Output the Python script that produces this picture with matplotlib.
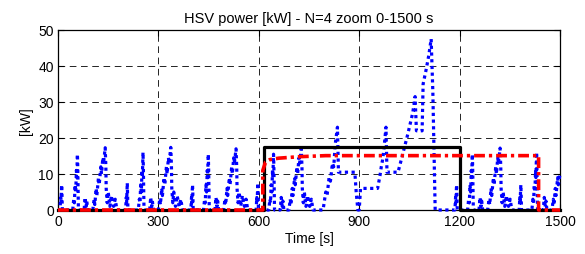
import matplotlib
matplotlib.use('Agg')
import matplotlib.pyplot as plt

plt.rcParams['font.family'] = ['Liberation Sans', 'DejaVu Sans']
plt.rcParams['font.size'] = 10

# HSV power (blue, dotted) - knots, one list per cycle
c1_t = [0, 6, 8, 9, 10, 11, 12, 13, 44, 47, 49, 51, 53, 55, 56, 58, 59, 60, 61, 78, 81, 84, 86, 89,
        104, 108, 110, 114, 116, 121, 123, 128, 130, 134, 136, 141, 143, 144, 147, 150, 155, 160, 166, 171, 176]
c1_p = [0, 0, 3.5, 2, 5, 7, 4, 0, 0, 3, 2, 7, 5, 11, 9, 15.5, 12, 6, 0, 0, 3.5, 1, 2.5, 0,
        0, 3, 1.5, 6, 4, 9, 7, 12, 10, 14.5, 13, 17.3, 12, 6, 2, 5, 1, 4, 1, 3, 0]

c2_t = [196, 202, 204, 205, 206, 207, 208, 209, 240, 243, 245, 247, 249, 251, 252, 254, 255, 256, 257, 274, 277, 280, 282, 285,
        300, 304, 306, 310, 312, 317, 319, 324, 326, 330, 332, 337, 339, 340, 343, 346, 351, 356, 362, 367, 372]
c2_p = [0, 0, 3.5, 2, 5, 7.5, 4, 0, 0, 3, 2, 7, 5, 11, 9, 16, 12, 6, 0, 0, 3.5, 1, 2.5, 0,
        0, 3, 1.5, 6, 4, 9, 7, 12, 10, 14.5, 13, 17.4, 12, 6, 2, 5, 1, 4, 1, 3, 0]

c3_t = [391, 397, 399, 400, 401, 402, 403, 404, 435, 438, 440, 442, 444, 446, 447, 449, 450, 451, 452, 469, 472, 475, 477, 480,
        495, 499, 501, 505, 507, 512, 514, 519, 521, 525, 527, 532, 534, 535, 538, 541, 546, 551, 557, 562, 567]
c3_p = [0, 0, 3.5, 2, 5, 7, 4, 0, 0, 3, 2, 7, 5, 11, 9, 15.5, 12, 6, 0, 0, 3.5, 1, 2.5, 0,
        0, 3, 1.5, 6, 4, 9, 7, 12, 10, 14.5, 13, 17, 12, 6, 2, 5, 1, 4, 1, 3, 0]

c4_t = [586, 592, 594, 595, 596, 597, 598, 599, 630, 633, 635, 637, 639, 641, 642, 644, 645, 646, 647, 664, 667, 670, 672, 675,
        690, 694, 696, 700, 702, 707, 709, 714, 716, 720, 722, 727, 729, 730, 733, 736, 741, 746, 752, 757, 762]
c4_p = [0, 0, 3.5, 2, 5, 7.5, 4, 0, 0, 3, 2, 7, 5, 11, 9, 15.5, 12, 6, 0, 0, 3.5, 1, 2.5, 0,
        0, 3, 1.5, 6, 4, 9, 7, 12, 10, 14.5, 13, 17, 12, 6, 2, 5, 1, 4, 1, 3, 0]

# extra-urban part
eu_t = [785, 792, 800, 804, 810, 814, 820, 824, 828, 835, 838, 887, 891, 896, 900, 904, 955, 962, 966, 970, 974, 980, 983,
        1016, 1030, 1045, 1060, 1067, 1071, 1088, 1091, 1100, 1108, 1115, 1120, 1127, 1180]
eu_p = [0, 0, 5, 4, 9, 8, 13, 12, 18, 23, 10.5, 10.5, 5, 0, 0, 6, 6, 9.5, 12, 14, 17, 23, 10.5,
        10.5, 15.5, 21, 27, 31.5, 22, 22, 35, 39, 43, 47.5, 33, 0, 0]

c5_t = [1186, 1188, 1189, 1190, 1191, 1192, 1193, 1224, 1227, 1229, 1231, 1233, 1235, 1236, 1238, 1239, 1240, 1241,
        1258, 1261, 1264, 1266, 1269, 1284, 1288, 1290, 1294, 1296, 1301, 1303, 1308, 1310, 1314, 1316, 1321, 1323, 1324,
        1327, 1330, 1335, 1340, 1346, 1351, 1356, 1372]
c5_p = [0, 3.5, 2, 5, 7, 4, 0, 0, 3, 2, 7, 5, 11, 9, 15.5, 12, 6, 0,
        0, 3.5, 1, 2.5, 0, 0, 3, 1.5, 6, 4, 9, 7, 12, 10, 14.5, 13, 17.2, 12, 6,
        2, 5, 1, 4, 1, 3, 0, 0]

c6_t = [1378, 1380, 1381, 1382, 1383, 1384, 1385, 1416, 1419, 1421, 1423, 1425, 1427, 1428, 1430, 1431, 1432, 1433,
        1450, 1453, 1456, 1458, 1461, 1476, 1480, 1482, 1486, 1488, 1493, 1495, 1500]
c6_p = [0, 3.5, 2, 5, 7, 4, 0, 0, 3, 2, 7, 5, 11, 9, 16, 12, 6, 0,
        0, 3.5, 1, 2.5, 0, 0, 3, 1.5, 6, 4, 9, 7, 10]

t_hsv = c1_t + c2_t + c3_t + c4_t + eu_t + c5_t + c6_t
p_hsv = c1_p + c2_p + c3_p + c4_p + eu_p + c5_p + c6_p

# power (red, dash-dot)
t_red = [0, 612, 612, 620, 633, 660, 720, 800, 1436, 1436, 1500]
p_red = [0, 0, 11, 13.3, 14, 14.4, 14.8, 15.1, 15.1, 0, 0]

# reference step (black)
t_ref = [0, 616, 616, 1200, 1200, 1500]
p_ref = [0, 0, 17.5, 17.5, 0, 0]

xticks = [0, 300, 600, 900, 1200, 1500]
yticks = [0, 10, 20, 30, 40, 50]

fig = plt.figure(figsize=(5.85, 2.55), dpi=100)
ax = fig.add_axes([58 / 585, 1 - 211 / 255, 502 / 585, 180 / 255])

ax.plot(t_hsv, p_hsv, color=(0, 0, 1), lw=2.3, linestyle=(0, (1, 1.1)),
        dash_capstyle='butt', clip_on=False, zorder=3)
ax.plot(t_ref, p_ref, color='k', lw=2.3, clip_on=False, zorder=4)
ax.plot(t_red, p_red, color=(1, 0, 0), lw=2.6, linestyle=(0, (3, 1.1, 0.9, 1.1)),
        clip_on=False, zorder=5)

ax.set_xlim(0, 1500)
ax.set_ylim(0, 50)
ax.set_xticks(xticks)
ax.set_yticks(yticks)
ax.grid(True, color='k', lw=0.6, linestyle=(0, (8, 5.5)))
ax.tick_params(direction='in', top=True, right=True, length=4, width=0.8, labelsize=10, pad=3)
for s in ax.spines.values():
    s.set_linewidth(0.9)

ax.set_title('HSV power [kW] - N=4 zoom 0-1500 s', fontsize=10.5, pad=6)
ax.set_xlabel('Time [s]', fontsize=10, labelpad=2)
ax.set_ylabel('[kW]', fontsize=10, labelpad=4)

fig.savefig('out.png', dpi=100)
